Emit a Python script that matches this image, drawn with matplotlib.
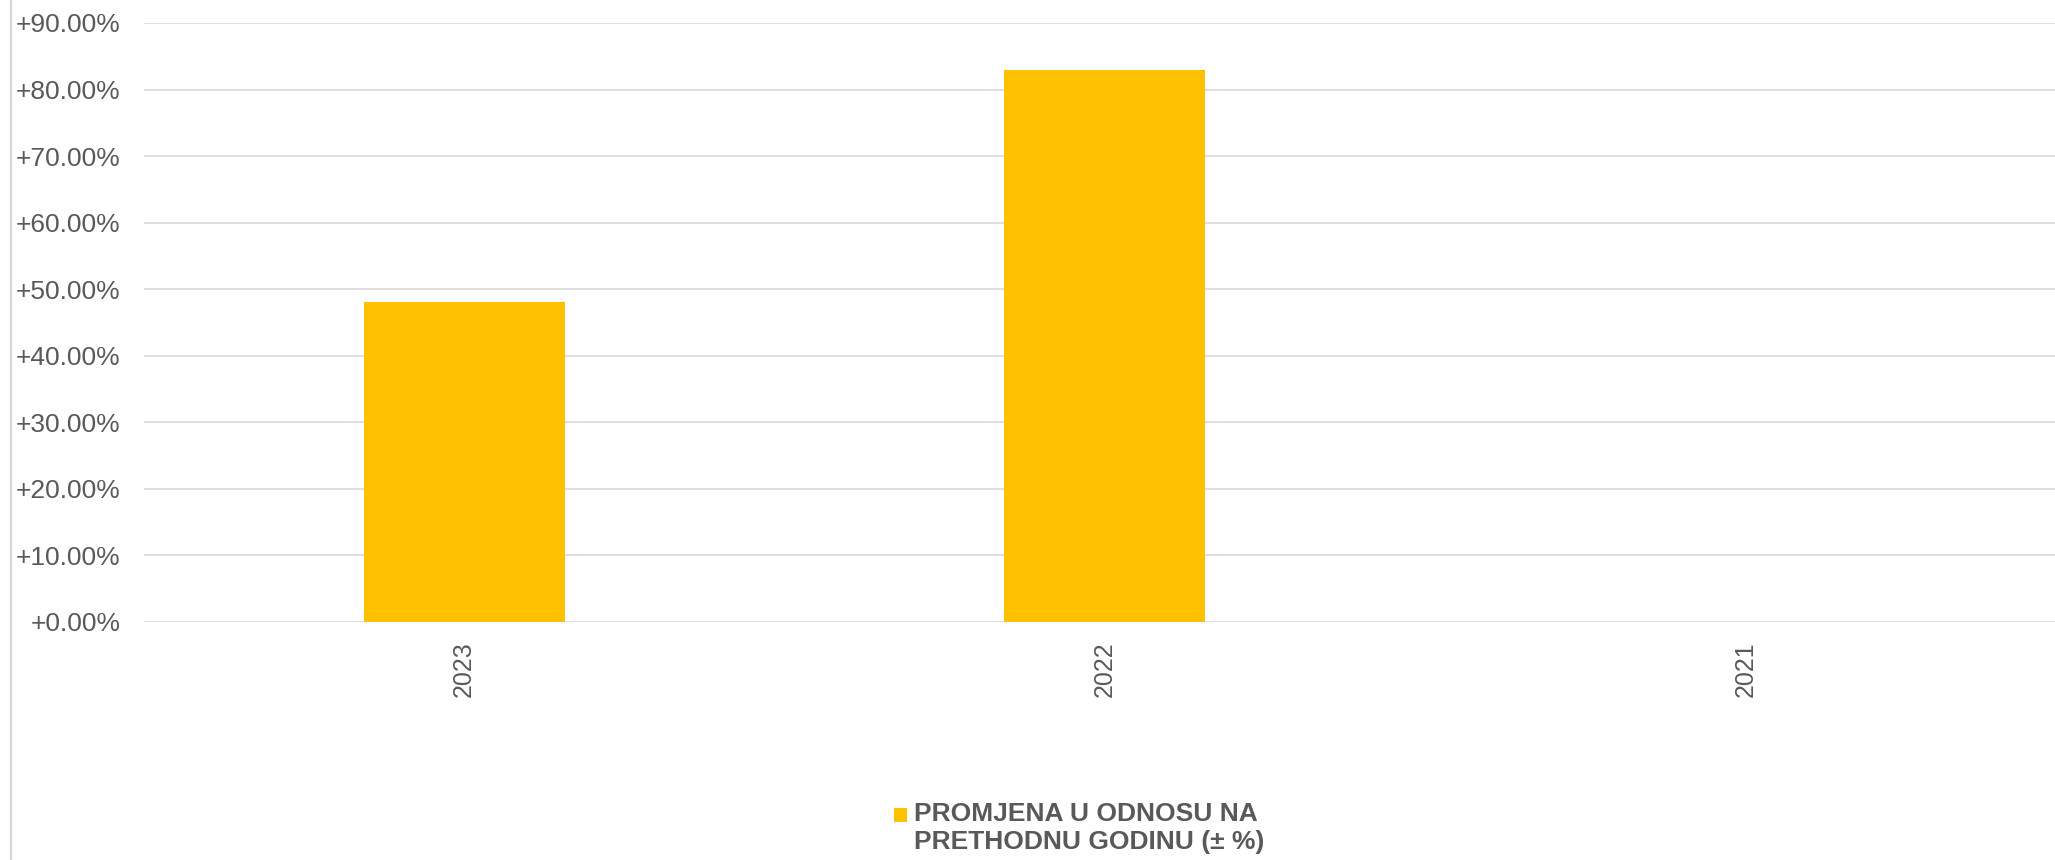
import numpy as np
import matplotlib
matplotlib.use('Agg')
import matplotlib.pyplot as plt
import matplotlib.ticker as mtick
from matplotlib.patches import Rectangle
from matplotlib.lines import Line2D

# ---------------------------------------------------------------------------
# Data
# ---------------------------------------------------------------------------
years = ['2023', '2022', '2021']
change_pct = [48.0, 83.0, np.nan]   # 2021 has no value
series_label = 'PROMJENA U ODNOSU NA\nPRETHODNU GODINU (± %)'
y_ticks = [0, 10, 20, 30, 40, 50, 60, 70, 80, 90]

BAR_COLOR = '#FFC000'
TEXT_COLOR = '#595959'
GRID_COLOR = '#D9D9D9'

plt.rcParams['font.family'] = ['Liberation Sans', 'DejaVu Sans']

fig = plt.figure(figsize=(20.55, 8.6), dpi=100)
# plot area runs a touch past the right edge, as in the original
ax = fig.add_axes([144 / 2055, 1 - 621.7 / 860, 1921.5 / 2055, (621.7 - 23) / 860])

x = np.arange(len(years))
ax.bar(x, np.nan_to_num(change_pct), width=0.314, color=BAR_COLOR, zorder=3)

ax.set_xlim(-0.5, len(years) - 0.5)
ax.set_ylim(0, 90)
ax.set_yticks(y_ticks)
ax.yaxis.set_major_formatter(mtick.FuncFormatter(lambda v, _: f'+{v:.2f}%'))
ax.set_xticks(x)
ax.set_xticklabels(years, rotation=90)

ax.grid(axis='y', color=GRID_COLOR, linewidth=1.2, zorder=0)
for s in ax.spines.values():
    s.set_visible(False)
ax.tick_params(axis='y', length=0, pad=17, labelsize=19, labelcolor=TEXT_COLOR)
ax.tick_params(axis='x', length=0, pad=14, labelsize=18, labelcolor=TEXT_COLOR)

# left border of the chart area
fig.add_artist(Line2D([11 / 2055, 11 / 2055], [0, 1], color=GRID_COLOR,
                      linewidth=1.6, transform=fig.transFigure))

# legend (square aligned with first line, like the original)
fig.add_artist(Rectangle((894 / 2055, 1 - 821.7 / 860), 13 / 2055, 13.7 / 860,
                         facecolor=BAR_COLOR, edgecolor='none',
                         transform=fig.transFigure))
fig.text(914 / 2055, 1 - 802 / 860, series_label, ha='left', va='top',
         fontsize=19, fontweight='bold', color=TEXT_COLOR, linespacing=1.22)

fig.savefig('out.png', dpi=100)
